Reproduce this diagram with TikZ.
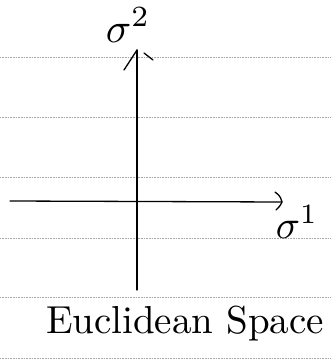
\documentclass[tikz,border=0pt]{standalone}
\usepackage{graphicx}
\usetikzlibrary{arrows.meta}
\begin{document}
\begin{tikzpicture}[x=1pt,y=-1pt,
  ruled/.style={draw=black!35, line width=0.5pt, dash pattern=on 0.8pt off 0.8pt},
  axis/.style={draw=black, line width=1.3pt, line cap=round},
  tip/.style={draw=black, line width=1.3pt, line cap=round, line join=round},
  hand/.style={inner sep=0pt}]
\useasboundingbox (0,0) rectangle (331,364);
\fill[white] (0,0) rectangle (331,364);
% ruled paper lines
\foreach \yy in {57,117,177,238,297,358}{
  \draw[ruled] (0,\yy) -- (331,\yy);
}
% axes
\coordinate (vbot) at (137,290);
\coordinate (vtop) at (137,50);
\coordinate (hleft) at (10,201);
\coordinate (hright) at (282,202);
\draw[axis] (vbot) -- (vtop);
\draw[axis] (hleft) -- (hright);
% hand-drawn arrowheads
\coordinate (vl) at (124,70);
\coordinate (vr1) at (144,53);
\coordinate (vr2) at (153,60);
\draw[tip] (vl) -- (vtop);
\draw[tip] (vr1) -- (vr2);
\coordinate (ha) at (275,192);
\coordinate (hb) at (276,210);
\draw[tip] (ha) .. controls (280,196) .. (hright) .. controls (280,206) .. (hb);
% labels
\node[hand] (s2) at (128,25) {\scalebox{4.2}{$\sigma^{2}$}};
\node[hand] (s1) at (297,222) {\scalebox{4.0}{$\sigma^{1}$}};
\node[hand] (title) at (185,324) {\scalebox{3.9}{Euclidean Space}};
\end{tikzpicture}
\end{document}
